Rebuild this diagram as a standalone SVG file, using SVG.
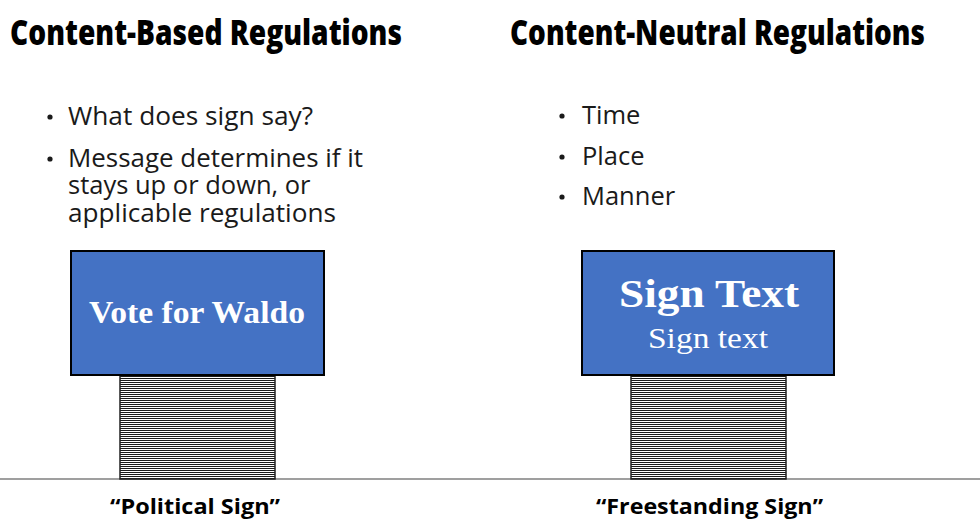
<svg xmlns="http://www.w3.org/2000/svg" width="980" height="521" viewBox="0 0 980 521">
<defs>
<pattern id="stripes" patternUnits="userSpaceOnUse" width="4" height="2">
<rect x="0" y="0" width="4" height="2" fill="#ffffff"/>
<rect x="0" y="0" width="4" height="1" fill="#1a1a1a"/>
</pattern>
</defs>
<style>
.title{font-family:"Open Sans","Liberation Sans",sans-serif;font-weight:800;font-size:36px;fill:#000}
.bullet{font-family:"Open Sans","Liberation Sans",sans-serif;font-size:25.5px;fill:#1a1a1a}
.label{font-family:"Open Sans","Liberation Sans",sans-serif;font-weight:700;font-size:22px;fill:#000}
.board{fill:#4472c4;stroke:#000;stroke-width:2}
.post{fill:url(#stripes);stroke:#222;stroke-width:1.5}
.signtxt{font-family:"Liberation Serif","DejaVu Serif",serif;fill:#fff;text-anchor:middle}
</style>
<rect width="980" height="521" fill="#fff"/>
<g id="titles">
<text class="title" x="10" y="45" textLength="392" lengthAdjust="spacingAndGlyphs">Content-Based Regulations</text>
<text class="title" x="510" y="45" textLength="415" lengthAdjust="spacingAndGlyphs">Content-Neutral Regulations</text>
</g>
<g id="left-bullets">
<circle cx="50" cy="117" r="2.6" fill="#1a1a1a"/>
<text class="bullet" x="68" y="125" textLength="245" lengthAdjust="spacingAndGlyphs">What does sign say?</text>
<circle cx="50" cy="159" r="2.6" fill="#1a1a1a"/>
<text class="bullet" x="68" y="167" textLength="295" lengthAdjust="spacingAndGlyphs">Message determines if it</text>
<text class="bullet" x="68" y="194">stays up or down, or</text>
<text class="bullet" x="68" y="222" textLength="268" lengthAdjust="spacingAndGlyphs">applicable regulations</text>
</g>
<g id="right-bullets">
<circle cx="562" cy="116" r="2.6" fill="#1a1a1a"/>
<text class="bullet" x="582" y="124">Time</text>
<circle cx="562" cy="157" r="2.6" fill="#1a1a1a"/>
<text class="bullet" x="582" y="165">Place</text>
<circle cx="562" cy="197" r="2.6" fill="#1a1a1a"/>
<text class="bullet" x="582" y="205">Manner</text>
</g>
<g id="ground">
<line x1="0" y1="479" x2="980" y2="479" stroke="#7f7f7f" stroke-width="1.5"/>
</g>
<g id="political-sign">
<rect class="post" x="120" y="375" width="155" height="104"/>
<rect class="board" x="71" y="251" width="253" height="124"/>
<text class="signtxt" x="197" y="323" font-size="31" font-weight="700" textLength="216" lengthAdjust="spacingAndGlyphs">Vote for Waldo</text>
<text class="label" x="110" y="514" textLength="170" lengthAdjust="spacingAndGlyphs">“Political Sign”</text>
</g>
<g id="freestanding-sign">
<rect class="post" x="631" y="375" width="155" height="104"/>
<rect class="board" x="582" y="251" width="252" height="124"/>
<text class="signtxt" x="709" y="307" font-size="40" font-weight="700" textLength="180" lengthAdjust="spacingAndGlyphs">Sign Text</text>
<text class="signtxt" x="708" y="348" font-size="30" textLength="120" lengthAdjust="spacingAndGlyphs">Sign text</text>
<text class="label" x="596" y="514" textLength="227" lengthAdjust="spacingAndGlyphs">“Freestanding Sign”</text>
</g>
</svg>
